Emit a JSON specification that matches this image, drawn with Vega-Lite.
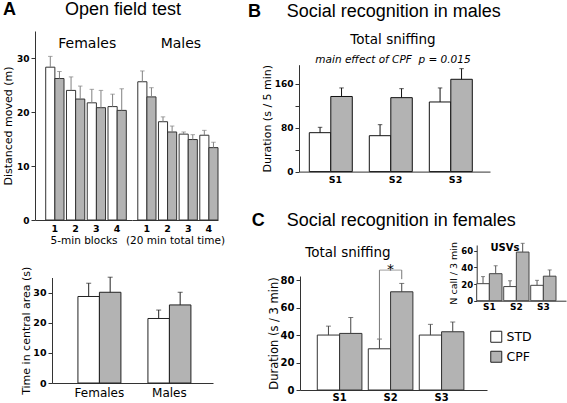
{
"$schema":"https://vega.github.io/schema/vega-lite/v6.json",
"padding":0,
"spacing":0,
"config":{
 "font":"DejaVu Sans",
 "view":{"stroke":null},
 "axis":{"labelFont":"DejaVu Sans","titleFont":"DejaVu Sans","labelColor":"#000","titleColor":"#000","domainColor":"#333","tickColor":"#333","grid":false,"titleFontWeight":"normal","labelFontWeight":"bold"},
 "title":{"color":"#000","subtitleColor":"#000"}
},
"datasets":{
 "openfield":[
  {"sex":"Females","block":1,"diet":"STD","mean":28.3,"upper":30.3},
  {"sex":"Females","block":1,"diet":"CPF","mean":26.2,"upper":27.5},
  {"sex":"Females","block":2,"diet":"STD","mean":24.0,"upper":26.5},
  {"sex":"Females","block":2,"diet":"CPF","mean":22.4,"upper":24.8},
  {"sex":"Females","block":3,"diet":"STD","mean":21.7,"upper":24.2},
  {"sex":"Females","block":3,"diet":"CPF","mean":20.8,"upper":24.0},
  {"sex":"Females","block":4,"diet":"STD","mean":21.0,"upper":23.3},
  {"sex":"Females","block":4,"diet":"CPF","mean":20.3,"upper":24.3},
  {"sex":"Males","block":1,"diet":"STD","mean":25.6,"upper":27.6},
  {"sex":"Males","block":1,"diet":"CPF","mean":22.8,"upper":24.5},
  {"sex":"Males","block":2,"diet":"STD","mean":18.2,"upper":19.1},
  {"sex":"Males","block":2,"diet":"CPF","mean":16.3,"upper":17.4},
  {"sex":"Males","block":3,"diet":"STD","mean":15.9,"upper":16.3},
  {"sex":"Males","block":3,"diet":"CPF","mean":14.9,"upper":15.8},
  {"sex":"Males","block":4,"diet":"STD","mean":15.7,"upper":16.6},
  {"sex":"Males","block":4,"diet":"CPF","mean":13.4,"upper":14.4}
 ],
 "central":[
  {"sex":"Females","diet":"STD","mean":28.7,"upper":33.1},
  {"sex":"Females","diet":"CPF","mean":30.1,"upper":35.1},
  {"sex":"Males","diet":"STD","mean":21.4,"upper":24.2},
  {"sex":"Males","diet":"CPF","mean":25.9,"upper":30.1}
 ],
 "males":[
  {"session":"S1","diet":"STD","mean":71,"upper":80.8},
  {"session":"S1","diet":"CPF","mean":137,"upper":152.6},
  {"session":"S2","diet":"STD","mean":65.5,"upper":85.6},
  {"session":"S2","diet":"CPF","mean":134.9,"upper":151.3},
  {"session":"S3","diet":"STD","mean":127,"upper":152.6},
  {"session":"S3","diet":"CPF","mean":168.4,"upper":187.8}
 ],
 "females":[
  {"session":"S1","diet":"STD","mean":40,"upper":46.5},
  {"session":"S1","diet":"CPF","mean":41.2,"upper":52.8},
  {"session":"S2","diet":"STD","mean":30,"upper":37.1},
  {"session":"S2","diet":"CPF","mean":71.5,"upper":77.6},
  {"session":"S3","diet":"STD","mean":40,"upper":47.8},
  {"session":"S3","diet":"CPF","mean":42.4,"upper":49.5}
 ],
 "usv":[
  {"session":"S1","diet":"STD","mean":20.5,"upper":29},
  {"session":"S1","diet":"CPF","mean":32.5,"upper":42},
  {"session":"S2","diet":"STD","mean":17,"upper":24},
  {"session":"S2","diet":"CPF","mean":58.5,"upper":69},
  {"session":"S3","diet":"STD","mean":18.5,"upper":24.5},
  {"session":"S3","diet":"CPF","mean":29.5,"upper":37}
 ]
},
"hconcat":[
 {
  "title":{"text":"A","anchor":"start","frame":"group","font":"Liberation Sans","fontSize":18,"fontWeight":"bold","offset":0,"dx":3,"dy":19},
  "bounds":"flush","spacing":0,
  "vconcat":[
   {
    "width":240,"height":220,
    "title":{"text":"Open field test","anchor":"start","frame":"group","font":"Liberation Sans","fontSize":18,"fontWeight":"normal","offset":0,"dx":65,"dy":19},
    "data":{"name":"openfield"},
    "layer":[
     {
      "transform":[{"filter":"datum.sex === 'Females'"}],
      "layer":[
       {"mark":{"type":"bar","stroke":"#333","strokeWidth":1},
        "encoding":{
         "x":{"field":"block","type":"ordinal","scale":{"range":[35,132],"paddingInner":0.119,"paddingOuter":0.395,"align":0.653},"axis":{"orient":"bottom","title":"5-min blocks","ticks":false,"labelAngle":0,"labelPadding":3,"titlePadding":3,"labelFontSize":9.5,"titleFontSize":10.5}},
         "xOffset":{"field":"diet","type":"nominal","scale":{"domain":["STD","CPF"]}},
         "y":{"field":"mean","type":"quantitative","title":"Distanced moved (m)","scale":{"domain":[0,35],"range":[220,31],"nice":false},"axis":{"orient":"left","offset":-35,"values":[0,5,10,15,20,25,30,35],"labelExpr":"datum.value % 10 === 0 ? datum.label : ''","tickSize":4,"labelPadding":2,"titlePadding":3,"labelFontSize":9,"titleFontSize":11}},
         "fill":{"field":"diet","type":"nominal","scale":{"domain":["STD","CPF"],"range":["#ffffff","#b3b3b3"]},"legend":{"title":null,"orient":"none","legendX":490,"legendY":330.5,"symbolType":"square","symbolSize":121,"symbolStrokeColor":"#222","symbolStrokeWidth":1,"labelFont":"DejaVu Sans","labelFontSize":12.5,"labelColor":"#000","rowPadding":4,"labelOffset":4,"padding":0}}
        }},
       {"mark":{"type":"rule","color":"#808080"},
        "encoding":{
         "x":{"field":"block","type":"ordinal"},
         "xOffset":{"field":"diet","type":"nominal","scale":{"domain":["STD","CPF"]}},
         "y":{"field":"mean","type":"quantitative"},"y2":{"field":"upper"}}},
       {"mark":{"type":"tick","orient":"horizontal","size":4.5,"thickness":1,"color":"#808080"},
        "encoding":{
         "x":{"field":"block","type":"ordinal"},
         "xOffset":{"field":"diet","type":"nominal","scale":{"domain":["STD","CPF"]}},
         "y":{"field":"upper","type":"quantitative"}}},
       {"data":{"values":[{"sex":"Females"}]},
        "mark":{"type":"text","fontSize":14,"align":"center","baseline":"alphabetic","color":"#000"},
        "encoding":{"x":{"datum":3,"type":"ordinal","bandPosition":0},"y":{"datum":31.8},"text":{"field":"sex"}}}
      ]
     },
     {
      "transform":[{"filter":"datum.sex === 'Males'"}],
      "layer":[
       {"mark":{"type":"bar","stroke":"#333","strokeWidth":1},
        "encoding":{
         "x":{"field":"block","type":"ordinal","scale":{"range":[132,218],"paddingInner":0.119,"paddingOuter":0.14,"align":1},"axis":{"orient":"bottom","title":"(20 min total time)","ticks":false,"labelAngle":0,"labelPadding":3,"titlePadding":3,"labelFontSize":9.5,"titleFontSize":10.5}},
         "xOffset":{"field":"diet","type":"nominal","scale":{"domain":["STD","CPF"]}},
         "y":{"field":"mean","type":"quantitative","title":"Distanced moved (m)","scale":{"domain":[0,35],"range":[220,31],"nice":false},"axis":{"orient":"left","offset":-35,"values":[0,5,10,15,20,25,30,35],"labelExpr":"datum.value % 10 === 0 ? datum.label : ''","tickSize":4,"labelPadding":2,"titlePadding":3,"labelFontSize":9,"titleFontSize":11}},
         "fill":{"field":"diet","type":"nominal","scale":{"domain":["STD","CPF"],"range":["#ffffff","#b3b3b3"]},"legend":{"title":null,"orient":"none","legendX":490,"legendY":330.5,"symbolType":"square","symbolSize":121,"symbolStrokeColor":"#222","symbolStrokeWidth":1,"labelFont":"DejaVu Sans","labelFontSize":12.5,"labelColor":"#000","rowPadding":4,"labelOffset":4,"padding":0}}
        }},
       {"mark":{"type":"rule","color":"#808080"},
        "encoding":{
         "x":{"field":"block","type":"ordinal"},
         "xOffset":{"field":"diet","type":"nominal","scale":{"domain":["STD","CPF"]}},
         "y":{"field":"mean","type":"quantitative"},"y2":{"field":"upper"}}},
       {"mark":{"type":"tick","orient":"horizontal","size":4.5,"thickness":1,"color":"#808080"},
        "encoding":{
         "x":{"field":"block","type":"ordinal"},
         "xOffset":{"field":"diet","type":"nominal","scale":{"domain":["STD","CPF"]}},
         "y":{"field":"upper","type":"quantitative"}}},
       {"data":{"values":[{"sex":"Males"}]},
        "mark":{"type":"text","fontSize":14,"align":"center","baseline":"alphabetic","color":"#000"},
        "encoding":{"x":{"datum":3,"type":"ordinal","bandPosition":0.1},"y":{"datum":31.8},"text":{"field":"sex"}}}
      ]
     }
    ],
    "resolve":{"scale":{"x":"independent","xOffset":"independent"},"axis":{"x":"independent"}}
   },
   {
    "width":240,"height":163,
    "data":{"name":"central"},
    "layer":[
     {"mark":{"type":"bar","stroke":"#222","strokeWidth":1},
      "encoding":{
       "x":{"field":"sex","type":"nominal","scale":{"range":[52,213],"paddingInner":0.386,"paddingOuter":0.343,"align":0.54},"axis":{"orient":"bottom","title":null,"ticks":false,"labelAngle":0,"labelPadding":4,"labelFontSize":12,"labelFontWeight":"normal"}},
       "xOffset":{"field":"diet","type":"nominal","scale":{"domain":["STD","CPF"]}},
       "y":{"field":"mean","type":"quantitative","title":"Time in central area (s)","scale":{"domain":[0,35],"range":[163,57.5],"nice":false},"axis":{"orient":"left","offset":-52,"values":[0,5,10,15,20,25,30,35],"labelExpr":"datum.value % 10 === 0 ? datum.label : ''","tickSize":4,"labelPadding":2,"titlePadding":1,"labelFontSize":9.5,"titleFontSize":11}},
       "fill":{"field":"diet","type":"nominal","scale":{"domain":["STD","CPF"],"range":["#ffffff","#b3b3b3"]},"legend":{"title":null,"orient":"none","legendX":490,"legendY":330.5,"symbolType":"square","symbolSize":121,"symbolStrokeColor":"#222","symbolStrokeWidth":1,"labelFont":"DejaVu Sans","labelFontSize":12.5,"labelColor":"#000","rowPadding":4,"labelOffset":4,"padding":0}}
      }},
     {"mark":{"type":"rule","color":"#222"},
      "encoding":{
       "x":{"field":"sex","type":"nominal"},
       "xOffset":{"field":"diet","type":"nominal","scale":{"domain":["STD","CPF"]}},
       "y":{"field":"mean","type":"quantitative"},"y2":{"field":"upper"}}},
     {"mark":{"type":"tick","orient":"horizontal","size":5,"thickness":1,"color":"#222"},
      "encoding":{
       "x":{"field":"sex","type":"nominal"},
       "xOffset":{"field":"diet","type":"nominal","scale":{"domain":["STD","CPF"]}},
       "y":{"field":"upper","type":"quantitative"}}}
    ]
   }
  ]
 },
 {
  "spacing":0,
  "vconcat":[
   {
    "title":{"text":"B","anchor":"start","frame":"group","font":"Liberation Sans","fontSize":18,"fontWeight":"bold","offset":0,"dx":8,"dy":20.7},
    "spacing":0,
    "vconcat":[
     {
      "title":{"text":"Social recognition in males","anchor":"start","frame":"group","font":"Liberation Sans","fontSize":18,"fontWeight":"normal","offset":0,"dx":46.7,"dy":20.7},
      "spacing":0,
      "vconcat":[
       {
        "width":327,"height":190,
        "title":{"text":"Total sniffing","subtitle":"main effect of CPF\u00a0\u00a0p = 0.015","anchor":"middle","frame":"group","offset":0,"dx":-10.5,"dy":65.5,"font":"DejaVu Sans","fontSize":13.5,"fontWeight":"normal","subtitleFont":"DejaVu Sans","subtitleFontSize":10.5,"subtitleFontStyle":"italic","subtitlePadding":9},
        "data":{"name":"males"},
        "layer":[
         {"mark":{"type":"bar","stroke":"#111","strokeWidth":1},
          "encoding":{
           "x":{"field":"session","type":"nominal","scale":{"range":[59,250],"paddingInner":0.127,"paddingOuter":0.155,"align":0.554},"axis":{"orient":"bottom","offset":-18.4,"title":null,"ticks":false,"labelAngle":0,"labelPadding":3,"labelFontSize":9.5}},
           "xOffset":{"field":"diet","type":"nominal","scale":{"domain":["STD","CPF"]}},
           "y":{"field":"mean","type":"quantitative","title":"Duration (s / 5 min)","scale":{"domain":[0,195],"range":[171.6,64.7],"nice":false},"axis":{"orient":"left","offset":-59,"values":[0,40,80,120,160],"labelExpr":"datum.value % 80 === 0 ? datum.label : ''","tickSize":4,"labelPadding":2,"titlePadding":2,"labelFontSize":9,"titleFontSize":11}},
           "fill":{"field":"diet","type":"nominal","scale":{"domain":["STD","CPF"],"range":["#ffffff","#b3b3b3"]},"legend":{"title":null,"orient":"none","legendX":490,"legendY":330.5,"symbolType":"square","symbolSize":121,"symbolStrokeColor":"#222","symbolStrokeWidth":1,"labelFont":"DejaVu Sans","labelFontSize":12.5,"labelColor":"#000","rowPadding":4,"labelOffset":4,"padding":0}}
          }},
         {"mark":{"type":"rule","color":"#111"},
          "encoding":{
           "x":{"field":"session","type":"nominal"},
           "xOffset":{"field":"diet","type":"nominal","scale":{"domain":["STD","CPF"]}},
           "y":{"field":"mean","type":"quantitative"},"y2":{"field":"upper"}}},
         {"mark":{"type":"tick","orient":"horizontal","size":4.5,"thickness":1,"color":"#111"},
          "encoding":{
           "x":{"field":"session","type":"nominal"},
           "xOffset":{"field":"diet","type":"nominal","scale":{"domain":["STD","CPF"]}},
           "y":{"field":"upper","type":"quantitative"}}}
        ]
       }
      ]
     }
    ]
   },
   {
    "title":{"text":"C","anchor":"start","frame":"group","font":"Liberation Sans","fontSize":18,"fontWeight":"bold","offset":0,"dx":11.7,"dy":39.5},
    "spacing":0,
    "vconcat":[
     {
      "title":{"text":"Social recognition in females","anchor":"start","frame":"group","font":"Liberation Sans","fontSize":18,"fontWeight":"normal","offset":0,"dx":46.7,"dy":39.5},
      "spacing":0,
      "vconcat":[
       {
        "width":327,"height":200,
        "title":{"text":"Total sniffing","anchor":"middle","frame":"group","offset":0,"dx":-55.5,"dy":69,"font":"DejaVu Sans","fontSize":13.5,"fontWeight":"normal"},
        "layer":[
         {
          "data":{"name":"females"},
          "layer":[
           {"mark":{"type":"bar","stroke":"#333","strokeWidth":1},
            "encoding":{
             "x":{"field":"session","type":"nominal","scale":{"range":[60,247],"paddingInner":0.125,"paddingOuter":0.396,"align":0.428},"axis":{"orient":"bottom","title":null,"ticks":false,"labelAngle":0,"labelPadding":2,"labelFontSize":10}},
             "xOffset":{"field":"diet","type":"nominal","scale":{"domain":["STD","CPF"]}},
             "y":{"field":"mean","type":"quantitative","title":"Duration (s / 3 min)","scale":{"domain":[0,83],"range":[200,86],"nice":false},"axis":{"orient":"left","offset":-60,"values":[0,20,40,60,80],"tickSize":4,"labelPadding":2,"titlePadding":1,"labelFontSize":10,"titleFontSize":11.5}},
             "fill":{"field":"diet","type":"nominal","scale":{"domain":["STD","CPF"],"range":["#ffffff","#b3b3b3"]},"legend":{"title":null,"orient":"none","legendX":490,"legendY":330.5,"symbolType":"square","symbolSize":121,"symbolStrokeColor":"#222","symbolStrokeWidth":1,"labelFont":"DejaVu Sans","labelFontSize":12.5,"labelColor":"#000","rowPadding":4,"labelOffset":4,"padding":0}}
            }},
           {"mark":{"type":"rule","color":"#444"},
            "encoding":{
             "x":{"field":"session","type":"nominal"},
             "xOffset":{"field":"diet","type":"nominal","scale":{"domain":["STD","CPF"]}},
             "y":{"field":"mean","type":"quantitative"},"y2":{"field":"upper"}}},
           {"mark":{"type":"tick","orient":"horizontal","size":5,"thickness":1,"color":"#444"},
            "encoding":{
             "x":{"field":"session","type":"nominal"},
             "xOffset":{"field":"diet","type":"nominal","scale":{"domain":["STD","CPF"]}},
             "y":{"field":"upper","type":"quantitative"}}},
           {"data":{"values":[{"session":"S2","label":"*"}]},
            "layer":[
             {"mark":{"type":"rule","color":"#777"},
              "encoding":{"x":{"field":"session","type":"nominal","bandPosition":0.25},"y":{"datum":36.5},"y2":{"datum":87.3}}},
             {"mark":{"type":"rule","color":"#777"},
              "encoding":{"x":{"field":"session","type":"nominal","bandPosition":0.75},"y":{"datum":87.3},"y2":{"datum":80.7}}},
             {"mark":{"type":"tick","orient":"horizontal","size":22.3,"thickness":1,"color":"#777"},
              "encoding":{"x":{"field":"session","type":"nominal","bandPosition":0.5},"y":{"datum":87.3}}},
             {"mark":{"type":"text","fontSize":14,"align":"center","baseline":"alphabetic","color":"#000"},
              "encoding":{"x":{"field":"session","type":"nominal","bandPosition":0.5},"y":{"datum":84.3},"text":{"field":"label"}}}
            ]}
          ]
         },
         {
          "data":{"name":"usv"},
          "layer":[
           {"mark":{"type":"bar","stroke":"#444","strokeWidth":1},
            "encoding":{
             "x":{"field":"session","type":"nominal","scale":{"range":[236.7,326],"paddingInner":0.063,"paddingOuter":0.185,"align":0},"axis":{"orient":"bottom","offset":-89.3,"title":null,"ticks":false,"labelAngle":0,"labelPadding":2,"labelFontSize":9,"labelDx":-5}},
             "xOffset":{"field":"diet","type":"nominal","scale":{"domain":["STD","CPF"]}},
             "y":{"field":"mean","type":"quantitative","title":"N call / 3 min","scale":{"domain":[0,67],"range":[110.7,55],"nice":false},"axis":{"orient":"left","offset":-236.7,"values":[0,20,40,60],"tickSize":3,"labelPadding":1,"titlePadding":2,"labelFontSize":8.5,"titleFontSize":9.5}},
             "fill":{"field":"diet","type":"nominal","scale":{"domain":["STD","CPF"],"range":["#ffffff","#b3b3b3"]},"legend":{"title":null,"orient":"none","legendX":490,"legendY":330.5,"symbolType":"square","symbolSize":121,"symbolStrokeColor":"#222","symbolStrokeWidth":1,"labelFont":"DejaVu Sans","labelFontSize":12.5,"labelColor":"#000","rowPadding":4,"labelOffset":4,"padding":0}}
            }},
           {"mark":{"type":"rule","color":"#555"},
            "encoding":{
             "x":{"field":"session","type":"nominal"},
             "xOffset":{"field":"diet","type":"nominal","scale":{"domain":["STD","CPF"]}},
             "y":{"field":"mean","type":"quantitative"},"y2":{"field":"upper"}}},
           {"mark":{"type":"tick","orient":"horizontal","size":4,"thickness":1,"color":"#555"},
            "encoding":{
             "x":{"field":"session","type":"nominal"},
             "xOffset":{"field":"diet","type":"nominal","scale":{"domain":["STD","CPF"]}},
             "y":{"field":"upper","type":"quantitative"}}},
           {"data":{"values":[{"label":"USVs"}]},
            "mark":{"type":"text","fontSize":10,"fontWeight":"bold","align":"center","baseline":"alphabetic","color":"#000"},
            "encoding":{"x":{"datum":"S2","type":"nominal","bandPosition":0.05},"y":{"datum":59.5},"text":{"field":"label"}}}
          ]
         }
        ],
        "resolve":{"scale":{"x":"independent","y":"independent","xOffset":"independent"},"axis":{"x":"independent","y":"independent"}}
       }
      ]
     }
    ]
   }
  ]
 }
]
}
